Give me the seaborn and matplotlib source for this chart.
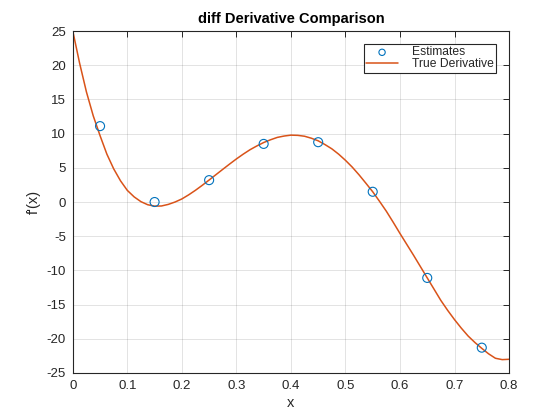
import matplotlib
matplotlib.use("Agg")
import pandas as pd
import matplotlib.pyplot as plt
import seaborn as sns

# Data
est_x = [0.05, 0.15, 0.25, 0.35, 0.45, 0.55, 0.65, 0.75]
est_y = [11.1, 0.0, 3.2, 8.5, 8.75, 1.5, -11.1, -21.3]

true_x = [0.0, 0.0125, 0.025, 0.0375, 0.05, 0.0625, 0.075, 0.0875, 0.1, 0.1125,
          0.125, 0.1375, 0.15, 0.1625, 0.175, 0.1875, 0.2, 0.2125, 0.225, 0.2375,
          0.25, 0.2625, 0.275, 0.2875, 0.3, 0.3125, 0.325, 0.3375, 0.35, 0.3625,
          0.375, 0.3875, 0.4, 0.4125, 0.425, 0.4375, 0.45, 0.4625, 0.475, 0.4875,
          0.5, 0.5125, 0.525, 0.5375, 0.55, 0.5625, 0.575, 0.5875, 0.6, 0.6125,
          0.625, 0.6375, 0.65, 0.6625, 0.675, 0.6875, 0.7, 0.7125, 0.725, 0.7375,
          0.75, 0.7625, 0.775, 0.7875, 0.8]
true_y = [25.0, 20.3, 16.1, 12.6, 9.7, 7.0, 4.85, 3.1, 1.7, 0.75,
          0.05, -0.4, -0.6, -0.58, -0.35, 0.0, 0.45, 1.05, 1.72, 2.45,
          3.22, 4.0, 4.78, 5.55, 6.3, 7.0, 7.65, 8.2, 8.7, 9.1,
          9.45, 9.65, 9.78, 9.75, 9.62, 9.33, 8.95, 8.4, 7.78, 7.0,
          6.1, 5.1, 3.97, 2.75, 1.5, 0.1, -1.35, -2.95, -4.6, -6.2,
          -7.8, -9.45, -11.1, -12.75, -14.4, -15.85, -17.2, -18.45, -19.6, -20.55,
          -21.4, -22.2, -22.85, -23.05, -23.0]

df_est = pd.DataFrame({'x': est_x, 'y': est_y})
df_true = pd.DataFrame({'x': true_x, 'y': true_y})

sns.set_style("white")
plt.rcParams['font.family'] = ['Liberation Sans', 'DejaVu Sans']
plt.rcParams['axes.unicode_minus'] = False

dark = '#262626'
fig = plt.figure(figsize=(5.6, 4.2), dpi=100)
ax = fig.add_axes([0.13, 0.112, 0.779, 0.814])

sns.scatterplot(x='x', y='y', data=df_est, ax=ax, marker='o', s=42,
                facecolor='none', edgecolor='#0072BD', linewidth=0.8,
                label='Estimates', zorder=3)
sns.lineplot(x='x', y='y', data=df_true, ax=ax, color='#D95319',
             linewidth=1.1, label='True Derivative', zorder=2)

ax.set_xlim(0, 0.8)
ax.set_ylim(-25, 25)
ax.set_xticks([0, 0.1, 0.2, 0.3, 0.4, 0.5, 0.6, 0.7, 0.8])
ax.set_xticklabels(['0', '0.1', '0.2', '0.3', '0.4', '0.5', '0.6', '0.7', '0.8'])
ax.set_yticks(range(-25, 30, 5))

ax.grid(True, color=dark, alpha=0.15, linewidth=0.6)
ax.set_axisbelow(True)
for sp in ax.spines.values():
    sp.set_color(dark)
    sp.set_linewidth(0.8)
    sp.set_visible(True)
ax.tick_params(direction='in', length=4, width=0.7, color=dark,
               labelcolor=dark, labelsize=9.5, top=True, right=True,
               pad=5)

ax.set_title('diff Derivative Comparison', fontsize=10.5, fontweight='bold',
             color='black', pad=6)
ax.set_xlabel('x', fontsize=10.5, color=dark, labelpad=3)
ax.set_ylabel("f'(x)", fontsize=10.5, color=dark, labelpad=4)

leg = ax.legend(loc='upper right', bbox_to_anchor=(0.97, 0.962),
                fontsize=8.7, frameon=True, fancybox=False, framealpha=1,
                edgecolor=dark, borderpad=0.2, handlelength=2.6,
                handletextpad=1.15, labelspacing=0.0, borderaxespad=0,
                markerscale=0.7)
leg.get_frame().set_linewidth(0.8)

plt.savefig('out.png', dpi=100)
